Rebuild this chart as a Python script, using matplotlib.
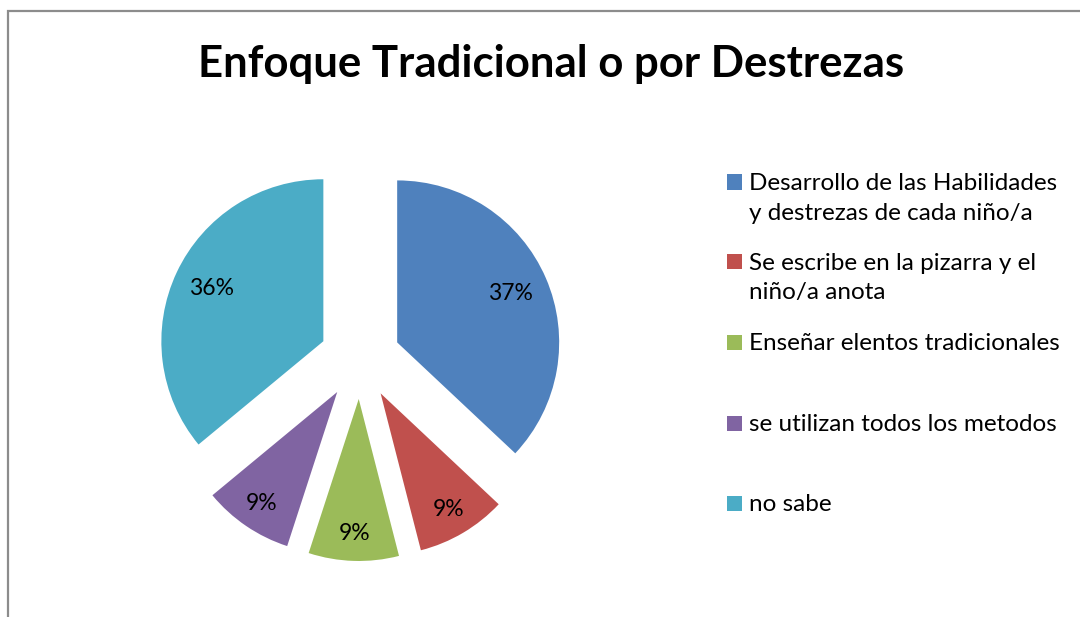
import numpy as np
import matplotlib
matplotlib.use("Agg")
import matplotlib.pyplot as plt
from matplotlib.patches import Rectangle
from matplotlib.lines import Line2D

title = "Enfoque Tradicional o por Destrezas"
categories = [
    "Desarrollo de las Habilidades\ny destrezas de cada niño/a",
    "Se escribe en la pizarra y el\nniño/a anota",
    "Enseñar elentos tradicionales",
    "se utilizan todos los metodos",
    "no sabe",
]
values = [37, 9, 9, 9, 36]
colors = ["#4F81BD", "#C0504D", "#9BBB59", "#8064A2", "#4BACC6"]

plt.rcParams["font.family"] = ["Lato", "DejaVu Sans"]

W, H = 1080, 617
fig = plt.figure(figsize=(W / 100, H / 100), dpi=100)
fig.patch.set_facecolor("white")

# outer frame (only top and left visible)
fx, fy = 7.5 / W, 1 - 11 / H
fig.add_artist(Line2D([fx, fx, 1.0], [0.0, fy, fy], transform=fig.transFigure,
                      color="#8c8c8c", linewidth=1.6, solid_joinstyle="miter"))

# pie axes: center at (360, 358.5) px, radius 162 px
cx, cy, R = 360, 358.5, 162
half = 250
ax = fig.add_axes([(cx - half) / W, (H - cy - half) / H, 2 * half / W, 2 * half / H])
explode = [0.25] * len(values)
wedges, texts, autotexts = ax.pie(
    values, colors=colors, startangle=90, counterclock=False,
    explode=explode, autopct=lambda p: f"{p:.0f}%", pctdistance=0.78,
    textprops=dict(fontsize=16.5, color="black"),
    wedgeprops=dict(linewidth=0))
L = half / R
ax.set_xlim(-L, L)
ax.set_ylim(-L, L)
ax.set_aspect("equal")
ax.axis("off")

# adjust label radial distances
for w, t, v in zip(wedges, autotexts, values):
    ang = np.deg2rad((w.theta1 + w.theta2) / 2)
    c = w.center
    d = 0.76 if v > 20 else 0.83
    t.set_position((c[0] + d * np.cos(ang), c[1] + d * np.sin(ang)))

fig.text(551 / W, 1 - 64 / H, title, ha="center", va="center",
         fontsize=31.5, fontweight="bold", color="black")

# legend
ys = [182, 262, 342, 423, 503]
for lab, col, y in zip(categories, colors, ys):
    fig.patches.append(Rectangle((727 / W, 1 - (y + 7.5) / H), 15 / W, 15 / H,
                                 transform=fig.transFigure, facecolor=col,
                                 edgecolor="none"))
    fig.text(749 / W, 1 - (y - 9) / H, lab, ha="left", va="top",
             fontsize=17.5, color="#000000", linespacing=1.5)

fig.savefig("out.png", dpi=100, facecolor="white")
